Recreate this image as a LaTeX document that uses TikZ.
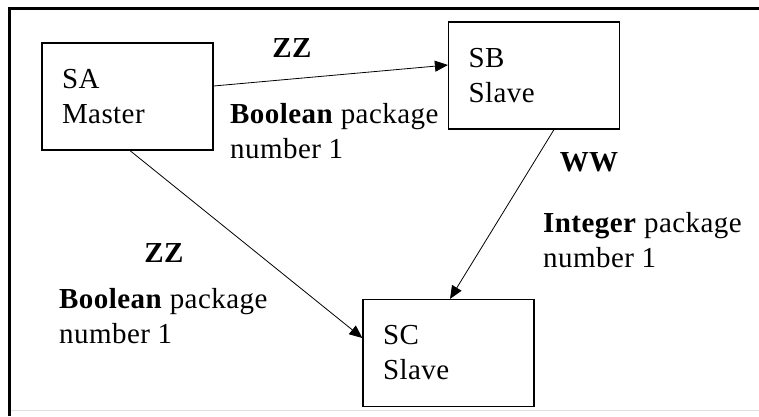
\documentclass[tikz,border=0pt]{standalone}
\usepackage{fontspec}
\setmainfont{Liberation Serif}[LetterSpace=1.5]
\usepackage{tikz}
\usetikzlibrary{arrows.meta}

\begin{document}
\begin{tikzpicture}[x=1pt,y=-1pt,
    box/.style={draw, line width=1.2pt, rectangle, align=left, text width=131pt,
      inner xsep=20pt, inner ysep=0pt, minimum height=107pt},
    arr/.style={-{Triangle[length=13pt,width=11pt]}, line width=0.8pt},
    lbl/.style={anchor=north west, inner sep=0pt, align=left}]
    \useasboundingbox (0,0) rectangle (759,416);
    \fontsize{29}{35}\selectfont
    % Frame
    \draw[line width=3pt] (9.5,416) -- (9.5,8.5) -- (759,8.5);
    \draw[black!12, line width=1pt] (11,410) -- (759,410);
    % Boxes
    \node[box] (sa) at (127.5,96.5) {SA\\Master};
    \node[box] (sb) at (534,75.5) {SB\\Slave};
    \node[box] (sc) at (448.5,353) {SC\\Slave};
    % Arrows
    \draw[arr] ([yshift=10.5pt]sa.east) -- ([yshift=10.5pt]sb.west);
    \draw[arr] ([xshift=2.5pt]sa.south) -- ([yshift=15pt]sc.west);
    \draw[arr] ([xshift=20pt]sb.south) -- ([xshift=1.5pt]sc.north);
    % Labels
    \node[font=\bfseries] (zzt) at (292,48) {ZZ};
    \node[lbl] (boolt) at (230,103) {\textbf{Boolean} package\\number 1};
    \node[font=\bfseries] (ww) at (589,162) {WW};
    \node[lbl] (intr) at (543,212) {\textbf{Integer} package\\number 1};
    \node[font=\bfseries] (zzb) at (164,253) {ZZ};
    \node[lbl] (boolb) at (59,288) {\textbf{Boolean} package\\number 1};
\end{tikzpicture}
\end{document}
